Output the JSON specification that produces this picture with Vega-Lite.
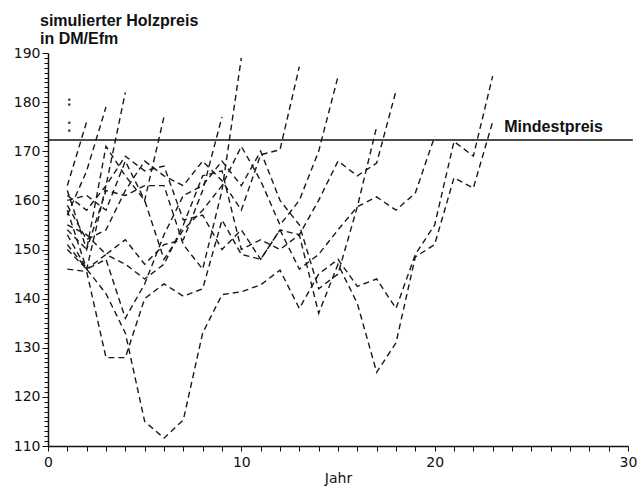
{
  "$schema": "https://vega.github.io/schema/vega-lite/v6.json",
  "width": 580,
  "height": 393,
  "autosize": {"type": "none"},
  "padding": {"left": 48, "top": 53, "right": 13, "bottom": 42},
  "background": "white",
  "config": {
    "view": {"stroke": null},
    "axis": {"grid": false, "domainColor": "#111", "domainWidth": 1.5, "tickColor": "#111", "tickWidth": 1, "labelColor": "#111", "labelFont": "DejaVu Sans", "labelFontSize": 14, "labelOverlap": false, "labelBound": false, "labelFlush": false}
  },
  "title": {
    "text": ["simulierter Holzpreis", "in DM/Efm"],
    "anchor": "start",
    "frame": "group",
    "dx": -8,
    "dy": 9,
    "offset": 8,
    "font": "Liberation Sans",
    "fontSize": 16,
    "fontWeight": "bold",
    "lineHeight": 18,
    "color": "#111"
  },
  "datasets": {
    "paths": [
      {"p": "A", "t": 1, "v": 163}, {"p": "A", "t": 2, "v": 176},
      {"p": "B", "t": 1, "v": 157}, {"p": "B", "t": 2, "v": 166}, {"p": "B", "t": 3, "v": 179},
      {"p": "C", "t": 1, "v": 151}, {"p": "C", "t": 2, "v": 146}, {"p": "C", "t": 3, "v": 163}, {"p": "C", "t": 4, "v": 182},
      {"p": "D", "t": 1, "v": 160}, {"p": "D", "t": 2, "v": 161}, {"p": "D", "t": 3, "v": 158}, {"p": "D", "t": 4, "v": 168}, {"p": "D", "t": 5, "v": 160}, {"p": "D", "t": 6, "v": 177},
      {"p": "E", "t": 1, "v": 155}, {"p": "E", "t": 2, "v": 153}, {"p": "E", "t": 3, "v": 149}, {"p": "E", "t": 4, "v": 152}, {"p": "E", "t": 5, "v": 147}, {"p": "E", "t": 6, "v": 151}, {"p": "E", "t": 7, "v": 152}, {"p": "E", "t": 8, "v": 162}, {"p": "E", "t": 9, "v": 177},
      {"p": "F", "t": 1, "v": 162}, {"p": "F", "t": 2, "v": 150}, {"p": "F", "t": 3, "v": 162}, {"p": "F", "t": 4, "v": 161}, {"p": "F", "t": 5, "v": 163}, {"p": "F", "t": 6, "v": 163}, {"p": "F", "t": 7, "v": 151}, {"p": "F", "t": 8, "v": 146}, {"p": "F", "t": 9, "v": 162}, {"p": "F", "t": 10, "v": 189},
      {"p": "G", "t": 1, "v": 153}, {"p": "G", "t": 2, "v": 146}, {"p": "G", "t": 3, "v": 141}, {"p": "G", "t": 4, "v": 133}, {"p": "G", "t": 5, "v": 115}, {"p": "G", "t": 6, "v": 111.6}, {"p": "G", "t": 7, "v": 115.3}, {"p": "G", "t": 8, "v": 133}, {"p": "G", "t": 9, "v": 140.8}, {"p": "G", "t": 10, "v": 141.4}, {"p": "G", "t": 11, "v": 142.8}, {"p": "G", "t": 12, "v": 145.8}, {"p": "G", "t": 13, "v": 138}, {"p": "G", "t": 14, "v": 145}, {"p": "G", "t": 15, "v": 148}, {"p": "G", "t": 16, "v": 142.5}, {"p": "G", "t": 17, "v": 144}, {"p": "G", "t": 18, "v": 138}, {"p": "G", "t": 19, "v": 149}, {"p": "G", "t": 20, "v": 155}, {"p": "G", "t": 21, "v": 172}, {"p": "G", "t": 22, "v": 169}, {"p": "G", "t": 23, "v": 185.3},
      {"p": "H", "t": 1, "v": 146}, {"p": "H", "t": 2, "v": 145.5}, {"p": "H", "t": 3, "v": 128}, {"p": "H", "t": 4, "v": 128}, {"p": "H", "t": 5, "v": 140}, {"p": "H", "t": 6, "v": 143}, {"p": "H", "t": 7, "v": 140.5}, {"p": "H", "t": 8, "v": 142}, {"p": "H", "t": 9, "v": 156}, {"p": "H", "t": 10, "v": 149}, {"p": "H", "t": 11, "v": 148}, {"p": "H", "t": 12, "v": 154}, {"p": "H", "t": 13, "v": 153}, {"p": "H", "t": 14, "v": 160}, {"p": "H", "t": 15, "v": 168}, {"p": "H", "t": 16, "v": 165}, {"p": "H", "t": 17, "v": 167.6}, {"p": "H", "t": 18, "v": 182.3},
      {"p": "Q", "t": 1, "v": 158}, {"p": "Q", "t": 2, "v": 146}, {"p": "Q", "t": 3, "v": 149}, {"p": "Q", "t": 4, "v": 147}, {"p": "Q", "t": 5, "v": 144}, {"p": "Q", "t": 6, "v": 147}, {"p": "Q", "t": 7, "v": 155}, {"p": "Q", "t": 8, "v": 165}, {"p": "Q", "t": 9, "v": 166}, {"p": "Q", "t": 10, "v": 150}, {"p": "Q", "t": 11, "v": 152}, {"p": "Q", "t": 12, "v": 150}, {"p": "Q", "t": 13, "v": 153}, {"p": "Q", "t": 14, "v": 137}, {"p": "Q", "t": 15, "v": 147}, {"p": "Q", "t": 16, "v": 139}, {"p": "Q", "t": 17, "v": 125}, {"p": "Q", "t": 18, "v": 131}, {"p": "Q", "t": 19, "v": 148.5}, {"p": "Q", "t": 20, "v": 151}, {"p": "Q", "t": 21, "v": 164.6}, {"p": "Q", "t": 22, "v": 162.5}, {"p": "Q", "t": 23, "v": 176},
      {"p": "T", "t": 1, "v": 161}, {"p": "T", "t": 2, "v": 158}, {"p": "T", "t": 3, "v": 163}, {"p": "T", "t": 4, "v": 169}, {"p": "T", "t": 5, "v": 166}, {"p": "T", "t": 6, "v": 167}, {"p": "T", "t": 7, "v": 156}, {"p": "T", "t": 8, "v": 157}, {"p": "T", "t": 9, "v": 150}, {"p": "T", "t": 10, "v": 154}, {"p": "T", "t": 11, "v": 148}, {"p": "T", "t": 12, "v": 154}, {"p": "T", "t": 13, "v": 146}, {"p": "T", "t": 14, "v": 149}, {"p": "T", "t": 15, "v": 154}, {"p": "T", "t": 16, "v": 158.7}, {"p": "T", "t": 17, "v": 160.7}, {"p": "T", "t": 18, "v": 158}, {"p": "T", "t": 19, "v": 161.5}, {"p": "T", "t": 20, "v": 173},
      {"p": "U", "t": 1, "v": 150}, {"p": "U", "t": 2, "v": 146}, {"p": "U", "t": 3, "v": 148}, {"p": "U", "t": 4, "v": 136}, {"p": "U", "t": 5, "v": 143}, {"p": "U", "t": 6, "v": 153}, {"p": "U", "t": 7, "v": 161}, {"p": "U", "t": 8, "v": 163}, {"p": "U", "t": 9, "v": 168}, {"p": "U", "t": 10, "v": 163}, {"p": "U", "t": 11, "v": 170}, {"p": "U", "t": 12, "v": 160}, {"p": "U", "t": 13, "v": 155}, {"p": "U", "t": 14, "v": 142}, {"p": "U", "t": 15, "v": 145}, {"p": "U", "t": 16, "v": 158.7}, {"p": "U", "t": 17, "v": 175},
      {"p": "V", "t": 1, "v": 159}, {"p": "V", "t": 2, "v": 152}, {"p": "V", "t": 3, "v": 154}, {"p": "V", "t": 4, "v": 162}, {"p": "V", "t": 5, "v": 168}, {"p": "V", "t": 6, "v": 165}, {"p": "V", "t": 7, "v": 163}, {"p": "V", "t": 8, "v": 168}, {"p": "V", "t": 9, "v": 164}, {"p": "V", "t": 10, "v": 158}, {"p": "V", "t": 11, "v": 169.3}, {"p": "V", "t": 12, "v": 170.3}, {"p": "V", "t": 13, "v": 187.2},
      {"p": "W", "t": 1, "v": 154}, {"p": "W", "t": 2, "v": 150}, {"p": "W", "t": 3, "v": 171}, {"p": "W", "t": 4, "v": 165}, {"p": "W", "t": 5, "v": 160}, {"p": "W", "t": 6, "v": 148}, {"p": "W", "t": 7, "v": 154}, {"p": "W", "t": 8, "v": 158}, {"p": "W", "t": 9, "v": 163}, {"p": "W", "t": 10, "v": 171}, {"p": "W", "t": 11, "v": 164}, {"p": "W", "t": 12, "v": 155}, {"p": "W", "t": 13, "v": 160}, {"p": "W", "t": 14, "v": 170}, {"p": "W", "t": 15, "v": 185.2}
    ],
    "marks": [
      {"t": 1.1, "v": 180.5}, {"t": 1.1, "v": 179.5}, {"t": 1.1, "v": 175.8}, {"t": 1.1, "v": 174.2}
    ],
    "threshold": [
      {"t": 0, "t2": 30.25, "v": 172.3}
    ],
    "thresholdLabel": [
      {"t": 23.6, "v": 172.3, "label": "Mindestpreis"}
    ]
  },
  "encoding": {
    "x": {
      "field": "t", "type": "quantitative",
      "scale": {"domain": [0, 30], "nice": false, "zero": false},
      "axis": {
        "values": [0,1,2,3,4,5,6,7,8,9,10,11,12,13,14,15,16,17,18,19,20,21,22,23,24,25,26,27,28,29,30],
        "labelExpr": "datum.value % 10 === 0 ? datum.label : ''",
        "tickSize": 5,
        "labelPadding": 4,
        "labelOverlap": false,
        "title": "Jahr",
        "titleFont": "DejaVu Sans",
        "titleFontSize": 14,
        "titleFontWeight": "normal",
        "titleColor": "#111",
        "titlePadding": 2
      }
    },
    "y": {
      "field": "v", "type": "quantitative",
      "scale": {"domain": [110, 190], "nice": false, "zero": false},
      "axis": {
        "values": [110,111,112,113,114,115,116,117,118,119,120,121,122,123,124,125,126,127,128,129,130,131,132,133,134,135,136,137,138,139,140,141,142,143,144,145,146,147,148,149,150,151,152,153,154,155,156,157,158,159,160,161,162,163,164,165,166,167,168,169,170,171,172,173,174,175,176,177,178,179,180,181,182,183,184,185,186,187,188,189,190],
        "labelExpr": "datum.value % 10 === 0 ? datum.label : ''",
        "tickSize": {"condition": {"test": "datum.value % 10 === 0", "value": 6}, "value": 4},
        "labelPadding": 2,
        "labelOverlap": false,
        "title": null
      }
    }
  },
  "layer": [
    {
      "data": {"name": "paths"},
      "mark": {"type": "line", "color": "#1a1a1a", "strokeWidth": 1.4, "strokeDash": [6, 4], "clip": false},
      "encoding": {
        "detail": {"field": "p"},
        "order": {"field": "t"}
      }
    },
    {
      "data": {"name": "marks"},
      "mark": {"type": "point", "shape": "square", "size": 5, "filled": true, "color": "#333", "opacity": 1}
    },
    {
      "data": {"name": "threshold"},
      "mark": {"type": "rule", "color": "#111", "strokeWidth": 1.5, "clip": false},
      "encoding": {
        "x2": {"field": "t2"}
      }
    },
    {
      "data": {"name": "thresholdLabel"},
      "mark": {"type": "text", "align": "left", "baseline": "alphabetic", "dy": -8, "font": "Liberation Sans", "fontSize": 16, "fontWeight": "bold", "color": "#111"},
      "encoding": {
        "text": {"field": "label"}
      }
    }
  ]
}
